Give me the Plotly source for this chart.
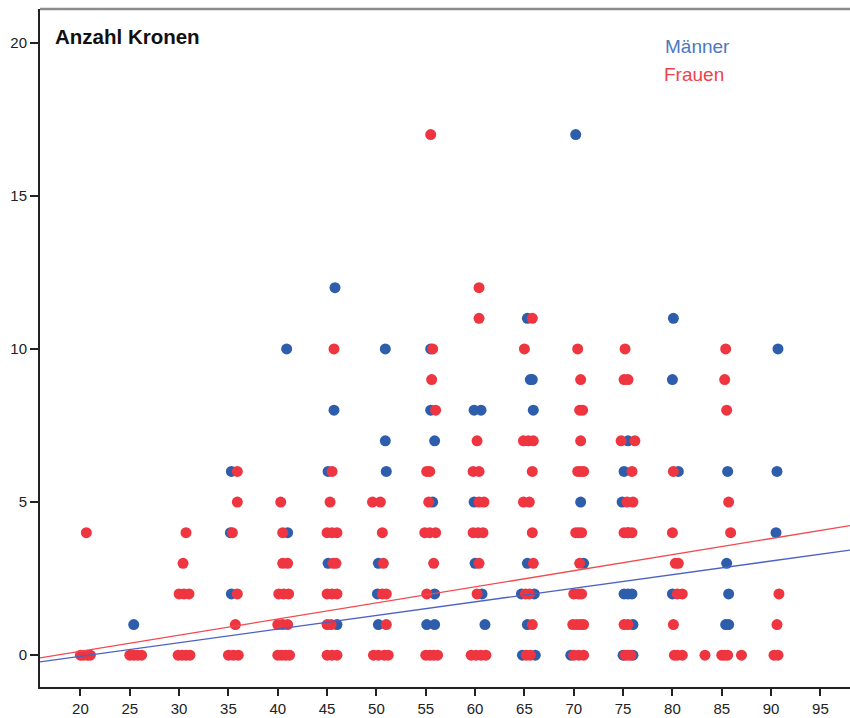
import plotly.graph_objects as go

# ---- data ----
men_age = [25.4,
           35.3, 35.2, 35.3,
           41.0, 40.9,
           46.0, 45.1, 45.1, 45.7, 45.8,
           50.2, 50.1, 50.2, 51.0, 50.9, 50.9,
           55.1, 55.9, 55.9, 55.7, 55.9, 55.5, 55.5,
           61.0, 60.7, 60.0, 59.9, 59.9, 60.6,
           64.8, 66.1, 65.3, 64.7, 66.0, 65.3, 65.9, 65.6, 65.8, 65.3,
           69.7, 71.0, 70.7, 70.2,
           75.0, 76.0, 76.0, 75.1, 75.5, 75.9, 75.5, 74.9, 75.1, 75.5,
           80.0, 80.6, 80.0, 80.1,
           85.4, 85.7, 85.7, 85.5, 85.6,
           90.5, 90.6, 90.7]
men_crowns = [1,
              2, 4, 6,
              4, 10,
              1, 3, 6, 8, 12,
              1, 2, 3, 6, 7, 10,
              1, 1, 2, 5, 7, 8, 10,
              1, 2, 3, 5, 8, 8,
              0, 0, 1, 2, 2, 3, 8, 9, 9, 11,
              0, 3, 5, 17,
              0, 0, 1, 2, 2, 2, 4, 5, 6, 7,
              2, 6, 9, 11,
              1, 1, 2, 3, 6,
              4, 6, 10]

women_age = [20.0, 20.3, 20.7, 21.0, 20.6,
             25.0, 25.4, 25.8, 26.2,
             29.9, 30.3, 30.7, 31.1, 30.0, 30.5, 31.0, 30.4, 30.7,
             35.0, 35.5, 36.0, 35.7, 35.9, 35.4, 35.9, 35.9,
             40.0, 40.4, 40.8, 41.2, 40.0, 40.5, 41.0, 40.1, 40.6, 41.1, 40.5, 41.0, 40.5, 40.3,
             45.0, 45.5, 46.0, 45.0, 45.4, 45.0, 45.5, 46.0, 45.6, 45.9, 45.0, 45.5, 46.0, 45.3, 45.5, 45.7,
             49.7, 50.2, 50.8, 51.2, 51.0, 50.6, 51.0, 50.7, 50.6, 49.6, 50.4,
             55.0, 55.4, 55.8, 56.2, 55.1, 55.8, 54.9, 55.4, 56.0, 55.3, 55.1, 55.4, 56.0, 55.6, 55.7, 55.5,
             59.6, 60.1, 60.6, 61.1, 60.2, 60.4, 59.8, 60.3, 60.8, 60.4, 60.9, 59.8, 60.4, 60.2, 60.4, 60.4,
             65.2, 65.6, 65.8, 65.1, 65.5, 65.9, 65.8, 64.9, 65.5, 65.8, 64.9, 65.4, 65.9, 65.0, 65.8,
             70.0, 70.5, 71.0, 69.9, 70.3, 70.7, 71.0, 70.0, 70.5, 70.8, 70.6, 70.2, 70.5, 70.8,
             70.4, 70.7, 71.0, 70.7, 70.6, 70.9, 70.7, 70.4,
             75.2, 75.5, 75.8, 75.1, 75.5, 75.1, 75.5, 75.9, 75.4, 76.0, 75.9, 74.8, 76.2, 75.1, 75.5, 75.2,
             80.2, 80.5, 81.0, 80.1, 80.5, 81.0, 80.3, 80.6, 80.0, 80.1,
             83.3, 85.0, 85.3, 85.6, 87.0, 85.9, 85.7, 85.5, 85.3, 85.4,
             90.3, 90.7, 90.6, 90.8]
women_crowns = [0, 0, 0, 0, 4,
                0, 0, 0, 0,
                0, 0, 0, 0, 2, 2, 2, 3, 4,
                0, 0, 0, 1, 2, 4, 5, 6,
                0, 0, 0, 0, 1, 1, 1, 2, 2, 2, 3, 3, 4, 5,
                0, 0, 0, 1, 1, 2, 2, 2, 3, 3, 4, 4, 4, 5, 6, 10,
                0, 0, 0, 0, 1, 2, 2, 3, 4, 5, 5,
                0, 0, 0, 0, 2, 3, 4, 4, 4, 5, 6, 6, 8, 9, 10, 17,
                0, 0, 0, 0, 2, 3, 4, 4, 4, 5, 5, 6, 6, 7, 11, 12,
                0, 0, 1, 2, 2, 3, 4, 5, 5, 6, 7, 7, 7, 10, 11,
                0, 0, 0, 1, 1, 1, 1, 2, 2, 2, 3, 4, 4, 4,
                6, 6, 6, 7, 8, 8, 9, 10,
                0, 0, 0, 1, 1, 4, 4, 4, 5, 5, 6, 7, 7, 9, 9, 10,
                0, 0, 0, 1, 2, 2, 3, 3, 4, 6,
                0, 0, 0, 0, 0, 4, 5, 8, 9, 10,
                0, 0, 1, 2]

# fit lines (end points)
fit_x = [15.9, 98.0]
fit_men = [-0.22, 3.43]
fit_women = [-0.09, 4.23]

x_ticks = [20, 25, 30, 35, 40, 45, 50, 55, 60, 65, 70, 75, 80, 85, 90, 95]
y_ticks = [0, 5, 10, 15, 20]

BLUE = "#2e5eab"
RED = "#ee3540"
FONT = "Liberation Sans, Arial, sans-serif"

fig = go.Figure()
fig.add_trace(go.Scatter(x=men_age, y=men_crowns, mode="markers",
                         marker=dict(size=11, color=BLUE), name="Männer"))
fig.add_trace(go.Scatter(x=women_age, y=women_crowns, mode="markers",
                         marker=dict(size=11, color=RED), name="Frauen"))
fig.add_trace(go.Scatter(x=fit_x, y=fit_men, mode="lines",
                         line=dict(color="#4b62c4", width=1.3)))
fig.add_trace(go.Scatter(x=fit_x, y=fit_women, mode="lines",
                         line=dict(color="#f24a50", width=1.3)))

fig.update_layout(
    width=850, height=718,
    margin=dict(l=40, r=0, t=9, b=31, autoexpand=False),
    plot_bgcolor="white", paper_bgcolor="white",
    showlegend=False,
    font=dict(family=FONT, size=15, color="#222"),
    xaxis=dict(range=[15.9, 98.0], tickvals=x_ticks, ticktext=[str(v) for v in x_ticks],
               automargin=False,
               showgrid=False, zeroline=False, showline=True, linecolor="#222", linewidth=2,
               ticks="outside", ticklen=7, tickwidth=1.5, tickcolor="#222",
               tickfont=dict(size=15, color="#222")),
    yaxis=dict(range=[-1.04, 21.1], tickvals=y_ticks, ticktext=[str(v) for v in y_ticks],
               automargin=False,
               showgrid=False, zeroline=False, showline=True, linecolor="#222", linewidth=2,
               ticks="outside", ticklen=8, tickwidth=1.5, tickcolor="#222",
               tickfont=dict(size=15, color="#222")),
    shapes=[dict(type="line", xref="paper", yref="paper", x0=0, x1=1, y0=1, y1=1,
                 line=dict(color="#8c8c8c", width=2.5))],
    annotations=[
        dict(text="<b>Anzahl Kronen</b>", xref="paper", yref="paper", x=0.0155, y=0.959,
             xanchor="left", yanchor="middle", showarrow=False,
             font=dict(size=20.5, color="#111", family=FONT)),
        dict(text="Männer", xref="paper", yref="paper", x=0.769, y=0.945,
             xanchor="left", yanchor="middle", showarrow=False,
             font=dict(size=19, color="#4a78c2", family=FONT)),
        dict(text="Frauen", xref="paper", yref="paper", x=0.768, y=0.904,
             xanchor="left", yanchor="middle", showarrow=False,
             font=dict(size=19, color="#f0424a", family=FONT)),
    ],
)

fig.write_html("out.html",
               config={"displayModeBar": False},
               post_script="document.body.style.margin='0';document.body.style.padding='0';")
